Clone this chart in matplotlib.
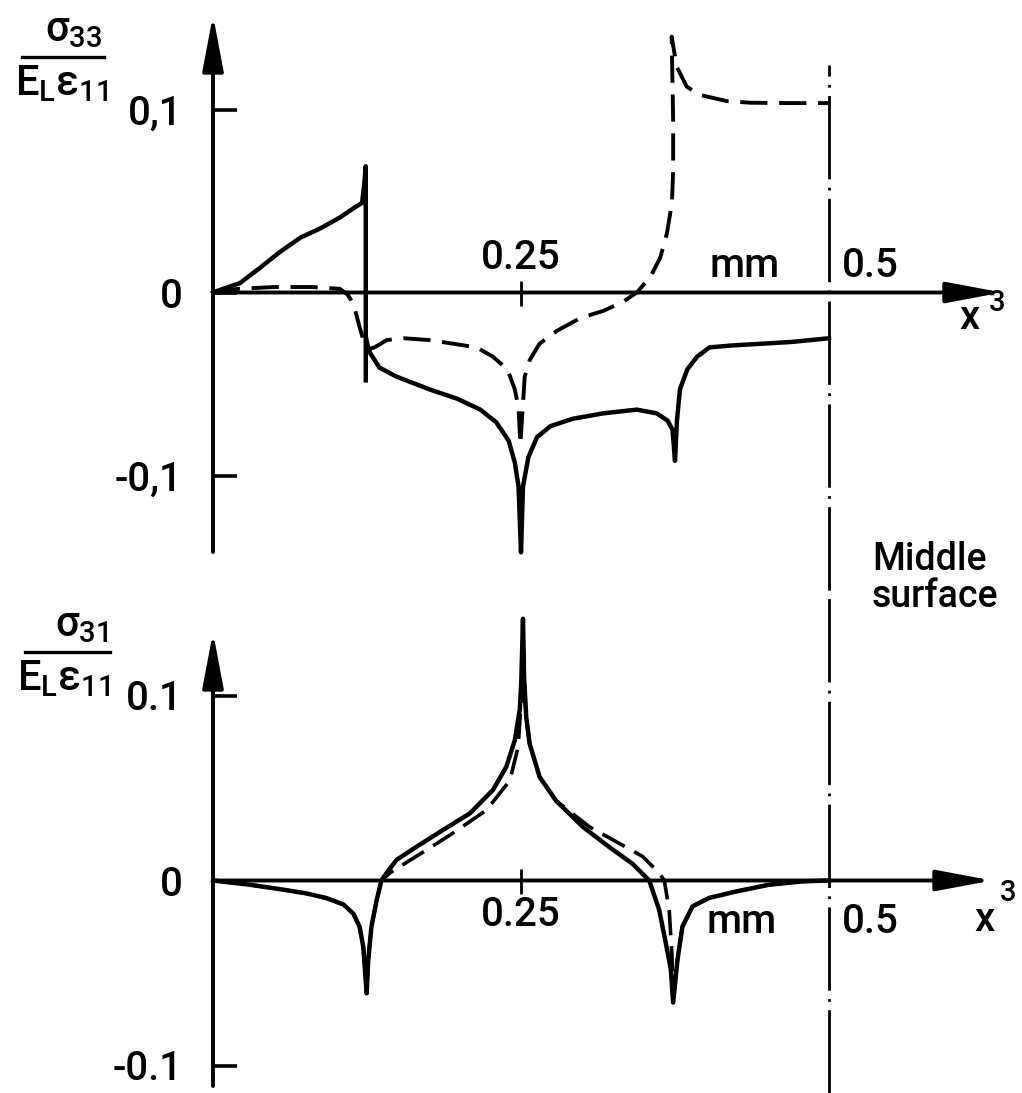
import matplotlib
matplotlib.use('Agg')
import matplotlib.pyplot as plt
from matplotlib.lines import Line2D

plt.rcParams['font.family'] = ['Roboto', 'DejaVu Sans']
plt.rcParams['font.weight'] = 'medium'
plt.rcParams['mathtext.fontset'] = 'custom'
plt.rcParams['mathtext.rm'] = 'Roboto:medium'
plt.rcParams['mathtext.it'] = 'Roboto:medium'
plt.rcParams['mathtext.bf'] = 'Roboto:bold'

# ---- data: x^3 in mm, normalised stresses ----
# sigma_33 / (E_L eps_11), solid curve (jump at the first interface)
s33_solid_x1 = [0, 0.0057, 0.022, 0.038, 0.054, 0.071, 0.087, 0.103, 0.114, 0.121, 0.1226, 0.124, 0.124]
s33_solid_y1 = [0, 0.0014, 0.0052, 0.0134, 0.022, 0.030, 0.035, 0.041, 0.046, 0.049, 0.058, 0.069, -0.048]
s33_solid_x2 = [0.124, 0.1255, 0.1275, 0.135, 0.149, 0.176, 0.198, 0.217, 0.230, 0.240, 0.245, 0.248, 0.25,
                0.2516, 0.256, 0.263, 0.274, 0.292, 0.317, 0.344, 0.360, 0.369, 0.373, 0.375,
                0.3766, 0.379, 0.385, 0.393, 0.403, 0.42, 0.445, 0.47, 0.5]
s33_solid_y2 = [-0.024, -0.029, -0.033, -0.041, -0.046, -0.053, -0.058, -0.064, -0.071, -0.081, -0.093, -0.106, -0.142,
                -0.106, -0.090, -0.079, -0.073, -0.069, -0.066, -0.064, -0.066, -0.070, -0.075, -0.092,
                -0.070, -0.053, -0.042, -0.035, -0.030, -0.029, -0.028, -0.027, -0.025]
# dashed curve
s33_dash_x = [0, 0.02, 0.05, 0.08, 0.103, 0.109, 0.114, 0.119, 0.1225, 0.126, 0.131, 0.141, 0.155, 0.176, 0.195,
              0.214, 0.227, 0.239, 0.245, 0.248, 0.2495, 0.253, 0.257, 0.265, 0.279, 0.298, 0.317, 0.333, 0.344,
              0.355, 0.363, 0.3685, 0.3725, 0.3735, 0.3735, 0.3723, 0.3764, 0.3845, 0.395, 0.417, 0.436, 0.47, 0.5]
s33_dash_y = [0, 0.002, 0.003, 0.003, 0.002, -0.001, -0.006, -0.019, -0.027, -0.031, -0.030, -0.026, -0.025, -0.026, -0.028,
              -0.030, -0.035, -0.042, -0.053, -0.063, -0.083, -0.046, -0.037, -0.028, -0.021, -0.014, -0.010, -0.005, 0.0,
              0.0085, 0.019, 0.0325, 0.049, 0.067, 0.094, 0.1398, 0.1234, 0.1125, 0.108, 0.1046, 0.1037, 0.1035, 0.1035]

# sigma_31 / (E_L eps_11)
s31_solid_x = [0, 0.030, 0.0575, 0.076, 0.092, 0.106, 0.114, 0.119, 0.122, 0.1247, 0.126, 0.1286, 0.1327, 0.1367,
               0.143, 0.1491, 0.1653, 0.1869, 0.2085, 0.2273, 0.2381, 0.2449, 0.249, 0.2502, 0.2516, 0.2525, 0.2543,
               0.257, 0.2651, 0.2786, 0.3002, 0.3218, 0.3406, 0.3541, 0.3622, 0.3676, 0.3716, 0.3735, 0.377, 0.381,
               0.3892, 0.4027, 0.4242, 0.4512, 0.478, 0.5]
s31_solid_y = [0, -0.0023, -0.005, -0.007, -0.0095, -0.013, -0.018, -0.025, -0.036, -0.061, -0.043, -0.025, -0.011, 0.0,
               0.006, 0.0112, 0.0183, 0.0274, 0.0363, 0.049, 0.0615, 0.0757, 0.0923, 0.107, 0.1415, 0.110, 0.088,
               0.074, 0.056, 0.043, 0.029, 0.018, 0.009, 0.0, -0.016, -0.034, -0.048, -0.066, -0.043, -0.025,
               -0.014, -0.0094, -0.006, -0.0023, -0.0005, 0]
s31_dash_x = [0, 0.030, 0.0575, 0.076, 0.092, 0.106, 0.114, 0.119, 0.122, 0.1247, 0.126, 0.1286, 0.1327, 0.1367,
              0.1438, 0.16, 0.1734, 0.195, 0.2219, 0.2409, 0.2476, 0.2505, 0.2516, 0.253, 0.2543, 0.257, 0.2651,
              0.2786, 0.3056, 0.3299, 0.3487, 0.3622, 0.3663, 0.3703, 0.3725, 0.3735, 0.377, 0.381, 0.3892, 0.4027,
              0.4242, 0.4512, 0.478, 0.5]
s31_dash_y = [0, -0.0023, -0.005, -0.007, -0.0095, -0.013, -0.018, -0.025, -0.036, -0.059, -0.043, -0.025, -0.011, 0.0,
              0.0042, 0.011, 0.0165, 0.0257, 0.038, 0.054, 0.072, 0.100, 0.140, 0.100, 0.088, 0.074, 0.056,
              0.043, 0.029, 0.020, 0.013, 0.004, 0.0, -0.016, -0.040, -0.064, -0.043, -0.025, -0.014, -0.0094,
              -0.006, -0.0023, -0.0005, 0]

W, H = 1022, 1093
PX_X = 1232.0  # pixels per mm
fig = plt.figure(figsize=(W / 100, H / 100), dpi=100)

FS = 29
LW = 3.2
dash = (0, (7, 3))
dashdot = (0, (30, 3, 1, 3))


def arrow(ax, x0, y0, x1, y1):
    ax.annotate('', xy=(x1, y1), xytext=(x0, y0), annotation_clip=False,
                arrowprops=dict(arrowstyle='-|>,head_length=1.7,head_width=0.32', mutation_scale=20,
                                lw=2.8, color='k', shrinkA=0, shrinkB=0))


def setup(ax, y0px, ppu, top_px, bot_px, ytl, label_above, arrow_top_px, axis_bot_px, xtip_px, line_top_px):
    ax.set_xlim(0, (1010 - 213) / PX_X)
    ax.set_ylim((y0px - bot_px) / ppu, (y0px - top_px) / ppu)
    for s in ax.spines.values():
        s.set_visible(False)
    ax.set_facecolor('none')
    arrow(ax, 0, (y0px - axis_bot_px) / ppu, 0, (y0px - arrow_top_px) / ppu)
    arrow(ax, 0, 0, (xtip_px - 213) / PX_X, 0)
    ax.set_yticks([-0.1, 0, 0.1])
    ax.set_yticklabels(ytl)
    ax.tick_params(axis='y', direction='in', length=17, width=2.6, pad=22, labelsize=FS)
    ax.set_xticks([0.25])
    ax.set_xticklabels(['0.25'])
    if label_above:
        ax.spines['top'].set_position(('data', 0))
        ax.xaxis.set_ticks_position('top')
    else:
        ax.spines['bottom'].set_position(('data', 0))
        ax.xaxis.set_ticks_position('bottom')
    ax.tick_params(axis='x', direction='inout', length=18, width=2, pad=2, labelsize=FS)
    # middle surface
    ax.plot([0.5, 0.5], [(y0px - bot_px) / ppu, (y0px - line_top_px) / ppu], color='k', lw=2,
            ls=dashdot, clip_on=False)


def frac(num, x, y_line, x0, x1):
    fig.text((x1 - 2) / W, 1 - (y_line - 16) / H, num, fontsize=30, ha='right', va='baseline')
    fig.add_artist(Line2D([x0 / W, x1 / W], [1 - y_line / H, 1 - y_line / H], color='k', lw=2.4))
    fig.text(x / W, 1 - (y_line + 38) / H, r'E$_{L}$$\varepsilon_{11}$', fontsize=30, ha='center', va='baseline')


# ---- top panel ----
y0_top, ppu_top = 292.5, 1830.0
ax1 = fig.add_axes([213 / W, 1 - 590 / H, (1010 - 213) / W, 580 / H])
setup(ax1, y0_top, ppu_top, 10, 590, ['-0,1', '0', '0,1'], True, 15, 552, 1002, 65)
ax1.plot(s33_solid_x1, s33_solid_y1, color='k', lw=LW, clip_on=False)
ax1.plot(s33_solid_x2, s33_solid_y2, color='k', lw=LW, clip_on=False)
ax1.plot(s33_dash_x, s33_dash_y, color='k', lw=LW - 0.4, ls=dash, clip_on=False)
ax1.text((745 - 213) / PX_X, (y0_top - 266) / ppu_top, 'mm', fontsize=FS, ha='center', va='center')
ax1.text((842 - 213) / PX_X, (y0_top - 266) / ppu_top, '0.5', fontsize=FS, ha='left', va='center')
ax1.text((970 - 213) / PX_X, (y0_top - 318) / ppu_top, 'x', fontsize=FS, ha='center', va='center')
ax1.text((997 - 213) / PX_X, (y0_top - 303) / ppu_top, '3', fontsize=FS - 8, ha='center', va='center')

# ---- bottom panel ----
y0_bot, ppu_bot = 880.5, 1850.0
ax2 = fig.add_axes([213 / W, 0, (1010 - 213) / W, 503 / H])
setup(ax2, y0_bot, ppu_bot, 590, 1093, ['-0.1', '0', '0.1'], False, 632, 1086, 992, 590)
ax2.plot(s31_solid_x, s31_solid_y, color='k', lw=LW, clip_on=False)
ax2.plot(s31_dash_x, s31_dash_y, color='k', lw=LW - 0.6, ls=dash, clip_on=False)
ax2.text((742 - 213) / PX_X, (y0_bot - 922) / ppu_bot, 'mm', fontsize=FS, ha='center', va='center')
ax2.text((842 - 213) / PX_X, (y0_bot - 922) / ppu_bot, '0.5', fontsize=FS, ha='left', va='center')
ax2.text((985 - 213) / PX_X, (y0_bot - 920) / ppu_bot, 'x', fontsize=FS, ha='center', va='center')
ax2.text((1008 - 213) / PX_X, (y0_bot - 893) / ppu_bot, '3', fontsize=FS - 8, ha='center', va='center')

# y labels and annotation
frac(r'$\sigma_{33}$', 62, 57, 22, 104)
frac(r'$\sigma_{31}$', 64, 652, 25, 110)
fig.text(872 / W, 1 - 578 / H, 'Middle\nsurface', fontsize=FS - 2, ha='left', va='center', linespacing=1.0)

fig.savefig('out.png', dpi=100)
